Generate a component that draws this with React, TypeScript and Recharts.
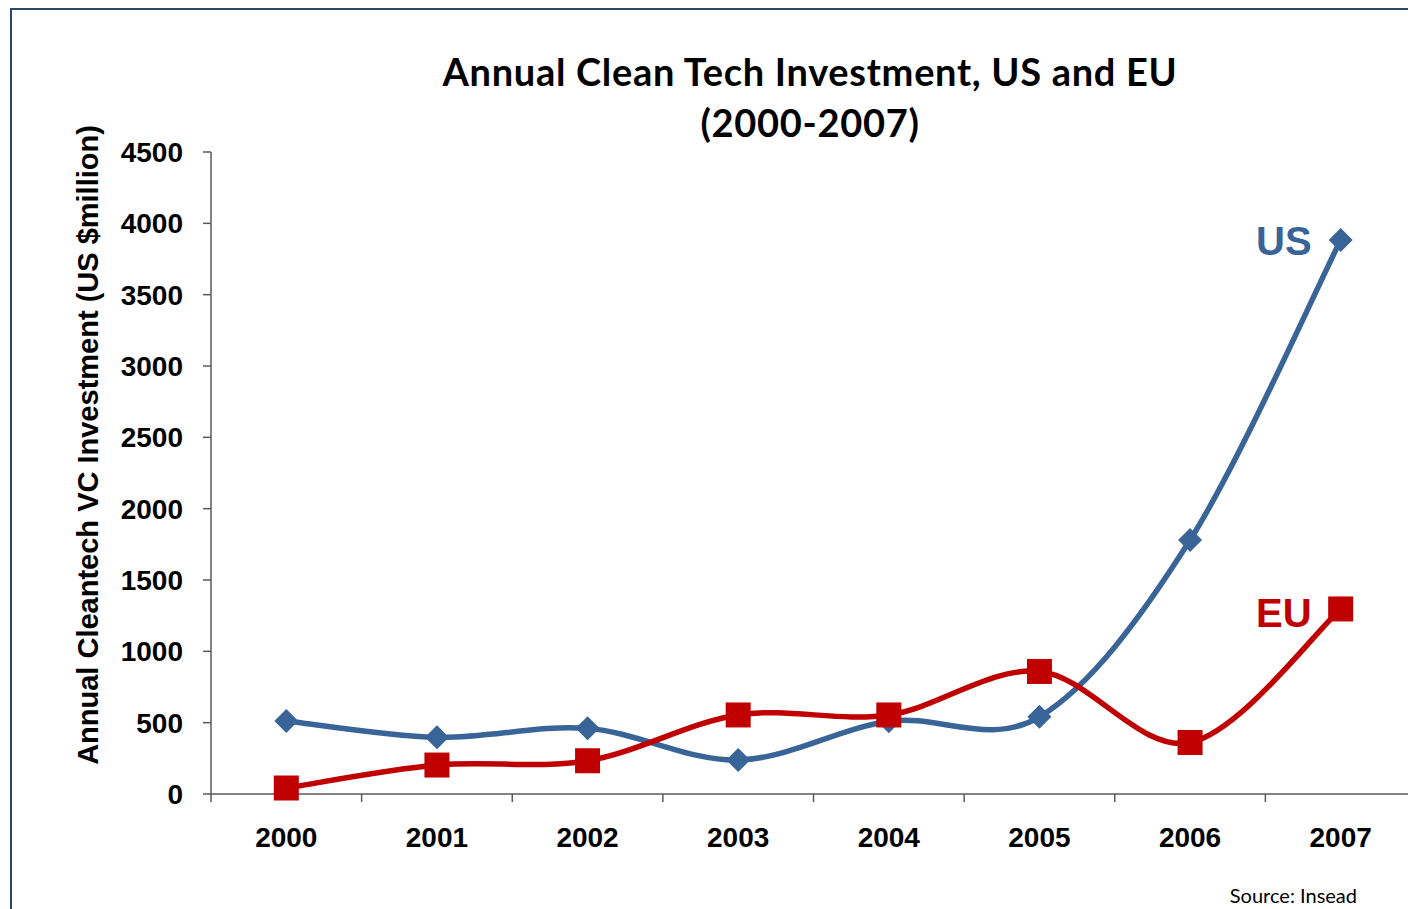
import { LineChart, Line, XAxis, YAxis, LabelList } from 'recharts'

const years = ['2000', '2001', '2002', '2003', '2004', '2005', '2006', '2007']
const usValues = [512, 397, 460, 238, 510, 541, 1780, 3883]
const euValues = [42, 203, 233, 554, 554, 859, 361, 1297]
const yTicks = [0, 500, 1000, 1500, 2000, 2500, 3000, 3500, 4000, 4500]

const data = years.map((year, i) => ({ year, US: usValues[i], EU: euValues[i] }))

const BLUE = '#386497'
const RED = '#c00000'
const AXIS = '#5a5a5a'
const FRAME = '#2a4668'
const ARIAL = '"Liberation Sans", Arial, sans-serif'
const CALIBRI = 'Lato, "Open Sans", sans-serif'

const W = 1408
const H = 901
const PLOT_LEFT = 203
const HALF_BAND = (W - PLOT_LEFT) / years.length / 2

// Excel-style smoothed line (Catmull-Rom through the points)
function smoothCurve(context: any) {
  let pts: [number, number][] = []
  return {
    areaStart() {},
    areaEnd() {},
    lineStart() { pts = [] },
    point(x: number, y: number) { pts.push([+x, +y]) },
    lineEnd() {
      const n = pts.length
      if (!n) return
      context.moveTo(pts[0][0], pts[0][1])
      for (let i = 0; i < n - 1; i++) {
        const p0 = pts[i - 1] ?? pts[i]
        const p1 = pts[i]
        const p2 = pts[i + 1]
        const p3 = pts[i + 2] ?? p2
        context.bezierCurveTo(
          p1[0] + (p2[0] - p0[0]) / 6, p1[1] + (p2[1] - p0[1]) / 6,
          p2[0] - (p3[0] - p1[0]) / 6, p2[1] - (p3[1] - p1[1]) / 6,
          p2[0], p2[1],
        )
      }
    },
  }
}

function XTick({ x, y, payload, index }: any) {
  return (
    <g>
      <line x1={x - HALF_BAND} x2={x - HALF_BAND} y1={y} y2={y + 8} stroke={AXIS} strokeWidth={1.5} />
      {index === years.length - 1 && (
        <line x1={x + HALF_BAND} x2={x + HALF_BAND} y1={y} y2={y + 8} stroke={AXIS} strokeWidth={1.5} />
      )}
      <text x={x} y={y + 53} textAnchor="middle" fontFamily={ARIAL} fontWeight="bold" fontSize={28} fill="#000">
        {payload.value}
      </text>
    </g>
  )
}

function diamondDot({ cx, cy, index }: any) {
  const r = 12
  return <polygon key={`us-${index}`} points={`${cx},${cy - r} ${cx + r},${cy} ${cx},${cy + r} ${cx - r},${cy}`} fill={BLUE} />
}

function squareDot({ cx, cy, index }: any) {
  const s = 12.5
  return <rect key={`eu-${index}`} x={cx - s} y={cy - s} width={s * 2} height={s * 2} fill={RED} />
}

const endLabel = (name: string, color: string, dy: number) => ({ x, y, index }: any) => {
  if (index !== years.length - 1) return null
  return (
    <text x={x - 29} y={y + dy} textAnchor="end" fontFamily={ARIAL} fontWeight="bold" fontSize={40} fill={color}>
      {name}
    </text>
  )
}

export default function App() {
  return (
    <div style={{ position: 'relative', width: W, height: H, overflow: 'hidden', background: '#fff' }}>
      <div style={{ position: 'absolute', left: 2, top: 0, width: 2000, height: 2000, borderLeft: `2px solid ${FRAME}`, borderTop: `2px solid ${FRAME}` }} />
      <div style={{ position: 'absolute', left: 802, top: 38, transform: 'translateX(-50%)', textAlign: 'center', whiteSpace: 'nowrap', fontFamily: CALIBRI, fontWeight: 700, fontSize: 38, letterSpacing: 0.7, lineHeight: '51px', color: '#000' }}>
        Annual Clean Tech Investment, US and EU<br />(2000-2007)
      </div>
      <div style={{ position: 'absolute', left: 80, top: 437, transform: 'translate(-50%, -50%) rotate(-90deg)', whiteSpace: 'nowrap', fontFamily: ARIAL, fontWeight: 'bold', fontSize: 29, color: '#000' }}>
        Annual Cleantech VC Investment (US $million)
      </div>
      <div style={{ position: 'absolute', right: W - 1349, top: 875, whiteSpace: 'nowrap', fontFamily: CALIBRI, fontSize: 20, color: '#000' }}>
        Source: Insead
      </div>
      <div style={{ position: 'absolute', left: 0, top: 0 }}>
        <LineChart width={W} height={H} data={data} margin={{ top: 144, right: 0, bottom: 55, left: 0 }}>
          <XAxis
            dataKey="year"
            interval={0}
            height={60}
            padding={{ left: HALF_BAND, right: HALF_BAND }}
            axisLine={{ stroke: AXIS, strokeWidth: 1.5 }}
            tickLine={false}
            tickSize={0}
            tickMargin={0}
            tick={<XTick />}
          />
          <YAxis
            width={PLOT_LEFT}
            domain={[0, 4500]}
            ticks={yTicks}
            interval={0}
            axisLine={{ stroke: AXIS, strokeWidth: 1.5 }}
            tickLine={{ stroke: AXIS, strokeWidth: 1.5 }}
            tickSize={8}
            tickMargin={20}
            tick={{ fill: '#000', fontFamily: ARIAL, fontWeight: 'bold', fontSize: 28 }}
          />
          <Line dataKey="US" type={smoothCurve as any} stroke={BLUE} strokeWidth={5.5} dot={diamondDot} activeDot={false} isAnimationActive={false}>
            <LabelList dataKey="US" content={endLabel('US', BLUE, 15)} />
          </Line>
          <Line dataKey="EU" type={smoothCurve as any} stroke={RED} strokeWidth={5.5} dot={squareDot} activeDot={false} isAnimationActive={false}>
            <LabelList dataKey="EU" content={endLabel('EU', RED, 18)} />
          </Line>
        </LineChart>
      </div>
    </div>
  )
}
